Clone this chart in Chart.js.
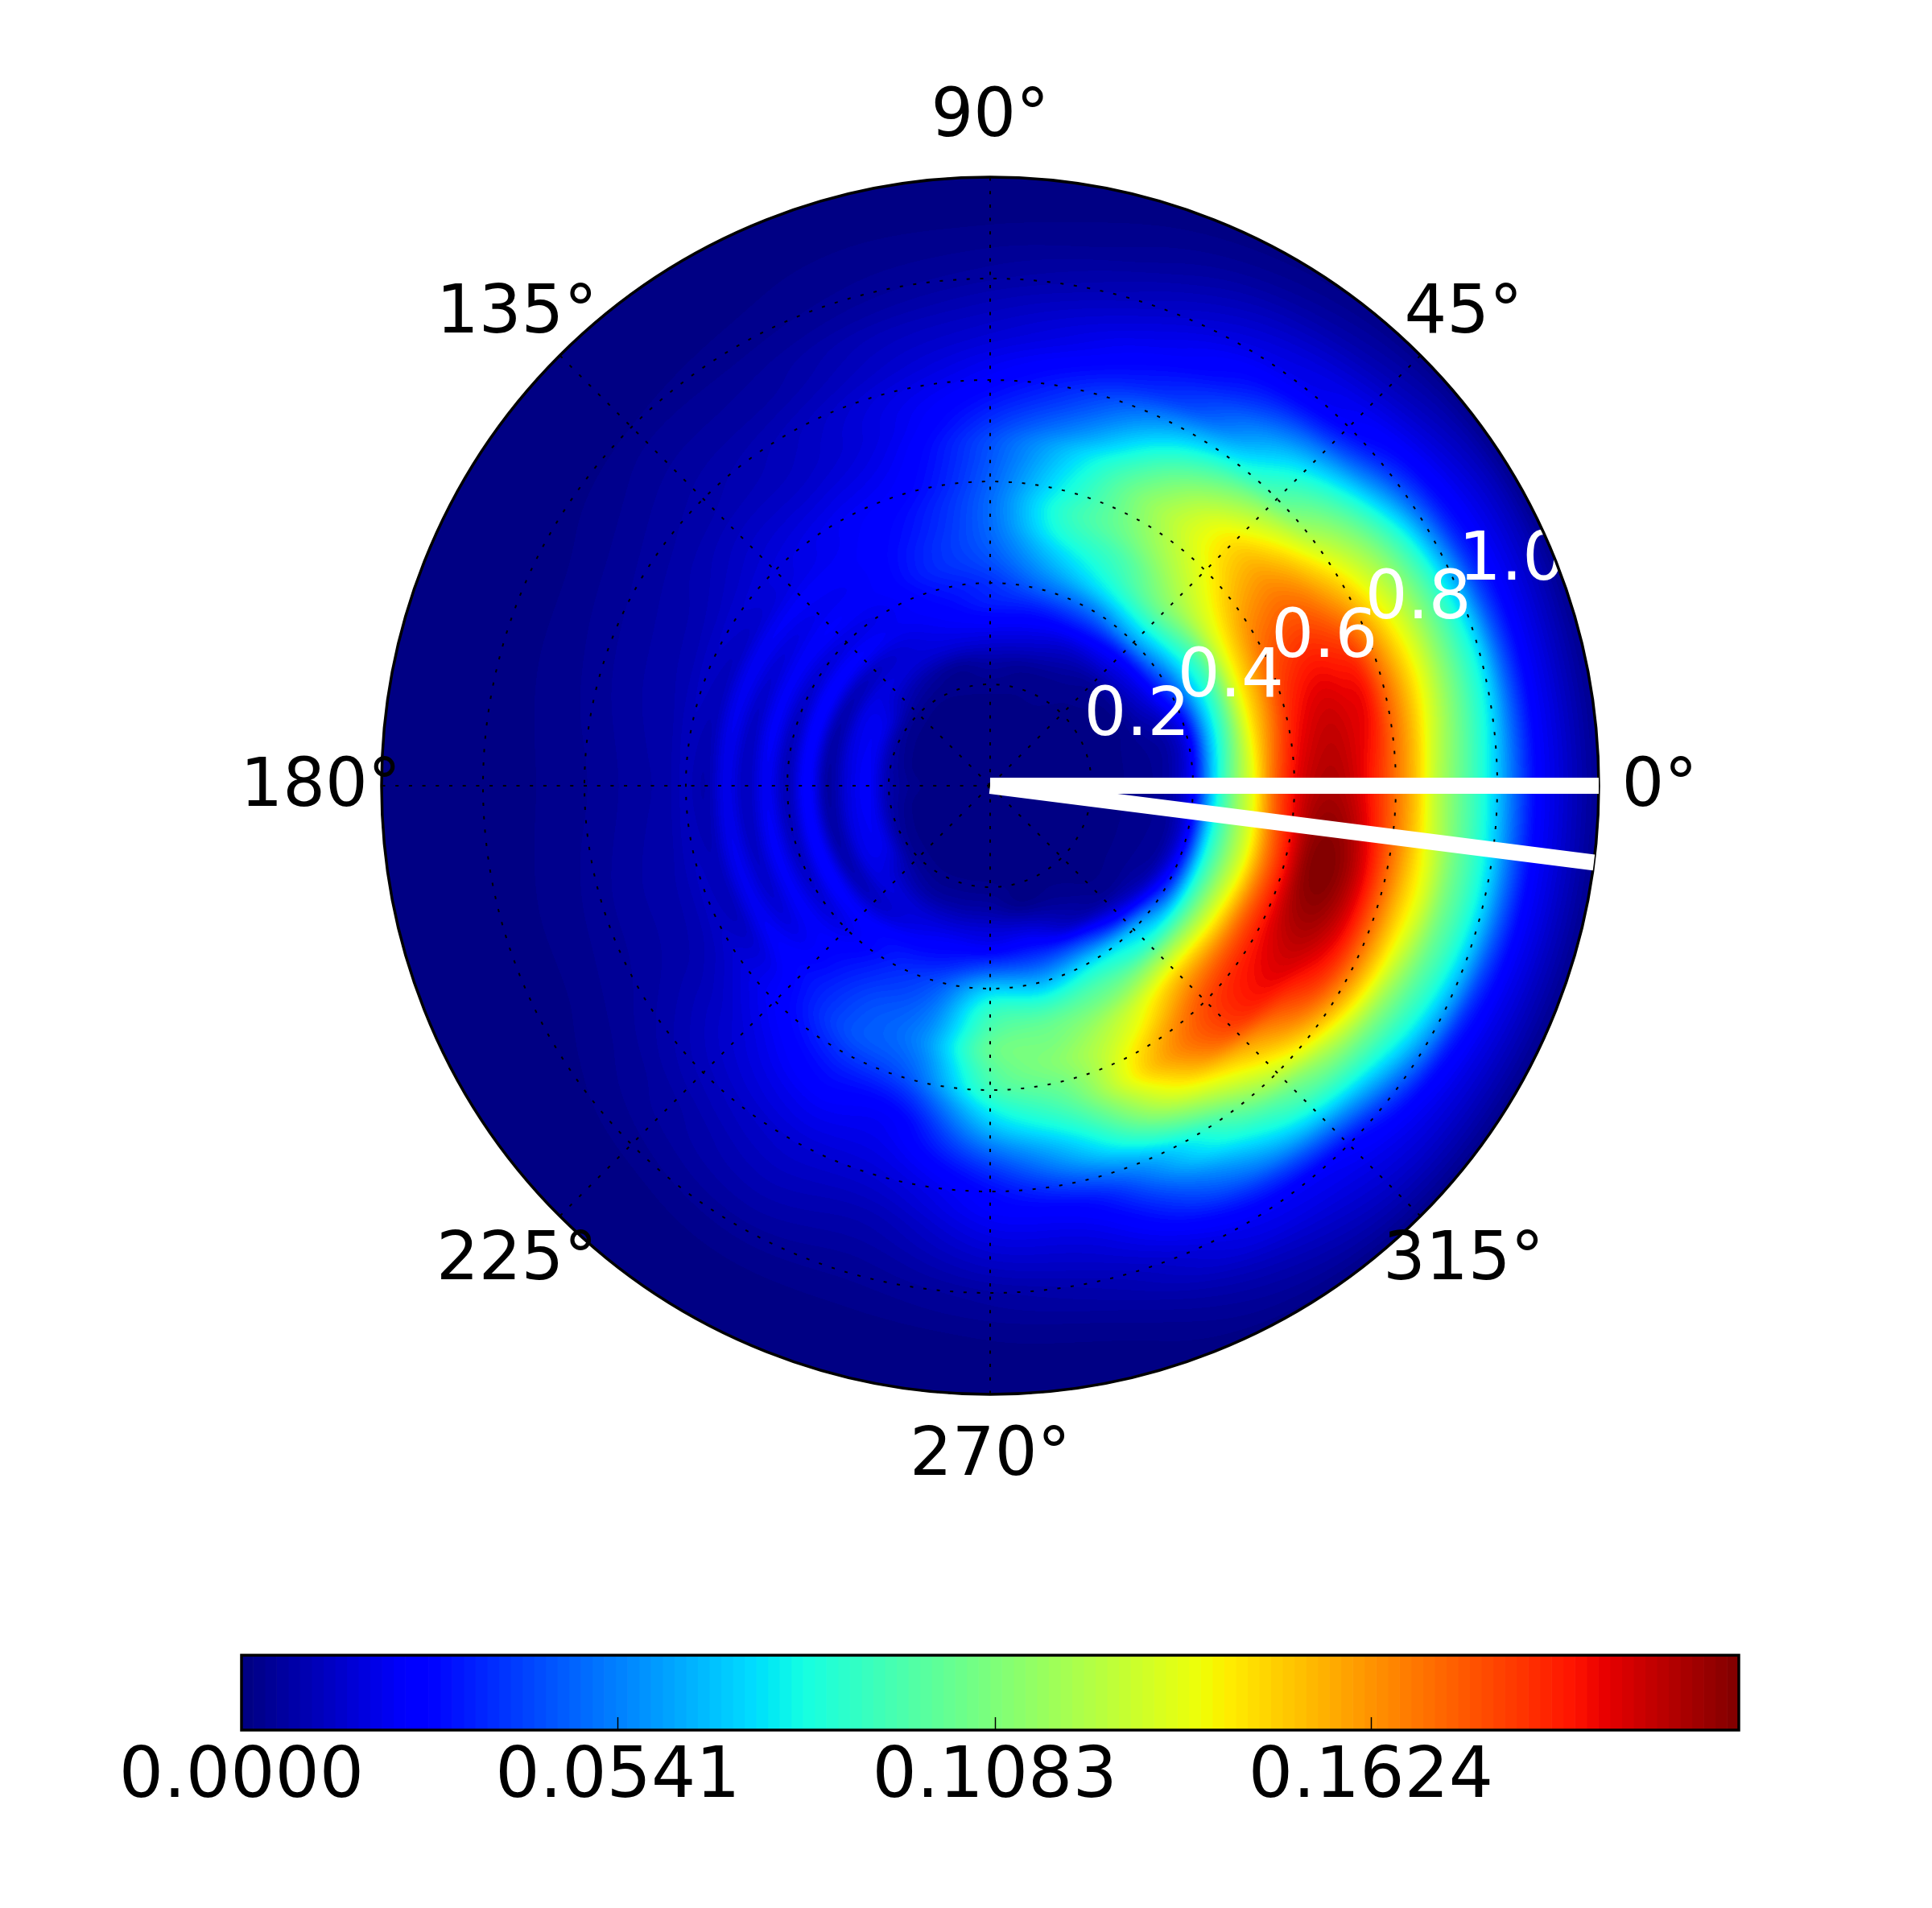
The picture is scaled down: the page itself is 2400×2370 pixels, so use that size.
<!DOCTYPE html>
<html>
<head>
<meta charset="utf-8">
<title>Polar heat map</title>
<script src="https://cdn.jsdelivr.net/npm/chart.js@4"></script>
<style>
  html, body { margin: 0; padding: 0; background: #fff; }
  canvas { position: absolute; left: 0; }
  #polar { top: 0; }
  #colorbar { top: 2040px; }
</style>
</head>
<body>
<canvas id="polar" width="2400" height="2370"></canvas>
<canvas id="colorbar" width="2400" height="330"></canvas>
<script>
// clockwise from the top, that is how the radar scale walks its spokes
const spokeLabels = ['90°', '45°', '0°', '315°', '270°', '225°', '180°', '135°']
const radialTicks = [0.2, 0.4, 0.6, 0.8, 1.0]
const whiteLineAngles = [0, -7.25]

const colorMax = 0.2153
const colorTicks = [0, 0.0541, 0.1083, 0.1624]

const radii = [0, 0.04, 0.08, 0.12, 0.16, 0.2, 0.24, 0.28, 0.32, 0.36, 0.4, 0.44, 0.48, 0.52, 0.56, 0.6,
    0.64, 0.68, 0.72, 0.76, 0.8, 0.84, 0.88, 0.92, 0.96, 1, 1.04, 1.08, 1.12, 1.16, 1.2]
const angles = [0, 15, 30, 45, 60, 75, 90, 105, 120, 135, 150, 165, 180, 195, 210, 225, 240, 255, 270, 285, 300, 315, 330, 345]

const heatRows = [
    [0,0,0,0,0,.5,.5,1,1.5, 4,12,33,50,64,80,90,95,96,93,87,79,70,58,49,41,32,21,12,8,4.5,1.5],
    [0,0,0,0,0,.5,.5,1,2, 4,11,30,46,63,75,85,90,92,91,89,80,71,62,52,43,34,21,12,8,4.5,1.5],
    [0,0,0,0,0,.5,.5,1,5, 10,20,33,44,60,70,77,80,81,79,74,68,61,54,46,37,26,16,11,8,5,1.5],
    [0,0,0,0,0,.5,1,2,7, 13,27,38,48,55,60,64,67,67,62,55,46,41,35,27,18,12,10,7.5,5,3,1],
    [0,0,0,0,.5,1,1.5,4,8, 15,24,34,40,44,49,52,53,50,45,38,30,22,18,14,11.5,9,7,5,3,1.5,.5],
    [0,0,0,0,.5,1,2,6,10, 15,22,28,33,38,40,38,36,33,27,22,18,14,11,9,7,5,3.5,2,1.2,.6,.2],
    [0,0,0,0,.5,1.2,3,7,11, 15,17,20,22,23,23,22,21,20,17,14,11.5,9.5,7.5,6,4.5,3,2,1.2,.6,.2,0],
    [0,0,0,0,.5,1,2,7,10, 12,14,16,16,15,14,12.5,11.5,10.5,9.5,9,8,6.5,5.5,4.5,3,2,1.4,1,.5,.2,0],
    [0,0,0,0,.5,1,3,7,8, 10,10,11,11,11,10.5,10,8.5,7,6,5.5,5,4,3,2.5,1.8,1.2,.8,.5,.2,0,0],
    [0,0,0,0,.5,1.5,5,8,6, 11,8.5,11,9.5,10.5,8.5,8,7,6,5,4,3.5,3,2.5,2,1.5,.8,.5,.2,0,0,0],
    [0,0,0,0,.5,2.5,9,9,4.5, 11.5,7,10.5,7.5,10,6,6.5,5,4,3.5,3,2.5,2,1.5,1,.7,.4,.2,0,0,0,0],
    [0,0,0,0,.8,3.5,10,8.5,3.5, 11.5,5.5,10.5,6,9.5,5,5.5,4,3.5,3,2.5,2,1.5,1.2,.8,.5,.3,.1,0,0,0,0],
    [0,0,0,.5,1.5,4,10.5,8,3, 11.5,5,10,5.5,9,4,5,3.5,3,2.5,2,1.5,1.2,.9,.6,.4,.2,.1,0,0,0,0],
    [0,0,0,0,.8,3.5,10,8.5,3.5, 11.5,5.5,10.5,6,9.5,5,5.5,4,3.5,3,2.5,2,1.5,1.2,.8,.5,.3,.1,0,0,0,0],
    [0,0,0,0,.5,2.5,9,9,4.5, 11.5,7,10.5,7.5,10,6,6.5,5,4,3.5,3,2.5,2,1.5,1,.7,.4,.2,0,0,0,0],
    [0,0,0,0,.5,1.5,5,8,6, 11,9.5,11.5,12,13,12,11,9.5,8,7,6,5,4,3,2.5,1.8,1.2,.6,.3,0,0,0],
    [0,0,0,0,.5,1,3,7,9, 13,15,17,19,20,20,17,14,12,10,8.5,7,6,5,4,3,2,1.2,.6,.3,0,0],
    [0,0,0,0,.5,1,3,7,11, 15,20,23,25,26,24,21,16,12,10.5,9,7.5,6,4.5,3.5,2.5,1.8,1.2,.6,.3,0,0],
    [0,0,0,0,.5,1,3,7,11, 20,32,40,44,47,45,42,36,30,23,17,13,11,9,7,5,3,2,1,.5,.1,0],
    [0,0,0,0,.2,.5,1,6,12, 20,30,40,47,50,52,50,47,42,36,30,22,15,11.5,9,7,5,3.5,2,1,.4,0],
    [0,0,0,0,0,.5,1,3,7, 20,34,43,50,58,63,68,70,65,58,48,38,33,26,20,14,10,8,5.5,3.5,2,.6],
    [0,0,0,0,0,.5,.5,1,3, 12,30,40,55,68,77,83,85,83,74,67,59,49,42,33,22,13,10,8,6,3.5,1],
    [0,0,0,0,0,.5,.5,1,2, 5,17,37,53,67,80,88,92,93,90,85,76,65,53,44,36,26,15,10,7,4,1.2],
    [0,0,0,0,0,.5,.5,1,1.5, 3,12,35,50,63,78,89,98,100,97,90,80,70,61,50,42,33,21,12,8,4.5,1.5],
]

const fontFamily = '"DejaVu Sans"'
const levels = 128

// matplotlib jet
function ramp(points, t) {
    for (let i = 1; i < points.length; i++) {
        if (t <= points[i][0]) {
            const a = points[i - 1], b = points[i]
            return a[1] + (b[1] - a[1]) * (t - a[0]) / (b[0] - a[0])
        }
    }
    return points[points.length - 1][1]
}
const jetR = [[0, 0], [0.35, 0], [0.66, 1], [0.89, 1], [1, 0.5]]
const jetG = [[0, 0], [0.125, 0], [0.375, 1], [0.64, 1], [0.91, 0], [1, 0]]
const jetB = [[0, 0.5], [0.11, 1], [0.34, 1], [0.65, 0], [1, 0]]
const palette = []
for (let i = 0; i < levels; i++) {
    const t = (i + 0.5) / levels
    palette.push([ramp(jetR, t), ramp(jetG, t), ramp(jetB, t)].map(c => Math.round(c * 255)))
}

function cubic(a, b, c, d, t) {
    return b + 0.5 * t * (c - a + t * (2 * a - 5 * b + 4 * c - d + t * (3 * (b - c) + d - a)))
}

// smooth shading between the cells, like gouraud in pcolormesh
function sampleHeat(rows, radius, theta) {
    const nA = rows.length, nR = radii.length
    const stepA = 360 / nA, stepR = radii[1] - radii[0]
    const fa = ((theta % 360) + 360) % 360 / stepA
    const ia = Math.floor(fa), ta = fa - ia
    const fr = Math.min(radius / stepR, nR - 1.001)
    const ir = Math.floor(fr), tr = fr - ir
    const at = j => {
        const row = rows[((ia + j) % nA + nA) % nA]
        return cubic(row[Math.max(ir - 1, 0)], row[ir], row[ir + 1], row[Math.min(ir + 2, nR - 1)], tr)
    }
    return cubic(at(-1), at(0), at(1), at(2), ta)
}

let heatLayer = null

function buildHeatLayer(chart) {
    const scale = chart.scales.r
    const rows = chart.data.datasets.map(d => d.data)
    const rad = scale.drawingArea
    const size = rad * 2 + 2
    const off = document.createElement('canvas')
    off.width = off.height = size
    const octx = off.getContext('2d')
    const img = octx.createImageData(size, size)
    for (let y = 0; y < size; y++) {
        for (let x = 0; x < size; x++) {
            const dx = x + 0.5 - size / 2, dy = size / 2 - y - 0.5
            const value = scale.getValueForDistanceFromCenter(Math.hypot(dx, dy))
            const v = sampleHeat(rows, value, Math.atan2(dy, dx) * 180 / Math.PI) / 100
            const c = palette[Math.max(0, Math.min(levels - 1, Math.floor(v * levels)))]
            const k = (y * size + x) * 4
            img.data[k] = c[0]; img.data[k + 1] = c[1]; img.data[k + 2] = c[2]; img.data[k + 3] = 255
        }
    }
    octx.putImageData(img, 0, 0)
    return off
}

const polarHeat = {
    id: 'polarHeat',
    beforeDraw(chart) {
        const scale = chart.scales.r, ctx = chart.ctx
        if (!heatLayer) heatLayer = buildHeatLayer(chart)
        ctx.save()
        ctx.beginPath()
        ctx.arc(scale.xCenter, scale.yCenter, scale.drawingArea, 0, Math.PI * 2)
        ctx.clip()
        ctx.drawImage(heatLayer, scale.xCenter - heatLayer.width / 2, scale.yCenter - heatLayer.height / 2)
        ctx.restore()
    },
    afterDraw(chart) {
        const scale = chart.scales.r, ctx = chart.ctx
        const cx = scale.xCenter, cy = scale.yCenter
        const rad = scale.drawingArea
        const px = (r, deg) => {
            const d = scale.getDistanceFromCenterForValue(r), a = deg * Math.PI / 180
            return [cx + d * Math.cos(a), cy - d * Math.sin(a)]
        }
        ctx.save()
        ctx.font = '83px ' + fontFamily

        // radial tick labels, the outer one runs off onto the white page
        ctx.fillStyle = '#fff'
        ctx.textAlign = 'left'
        ctx.textBaseline = 'alphabetic'
        radialTicks.forEach(r => {
            const p = px(r, 22.5)
            ctx.fillText(r.toFixed(1), p[0], p[1] - 15)
        })

        ctx.beginPath()
        ctx.arc(cx, cy, rad, 0, Math.PI * 2)
        ctx.strokeStyle = '#000'
        ctx.lineWidth = 3.5
        ctx.stroke()

        ctx.strokeStyle = '#fff'
        ctx.lineWidth = 20
        ctx.lineCap = 'butt'
        whiteLineAngles.forEach(deg => {
            const p = px(scale.max, deg)
            ctx.beginPath()
            ctx.moveTo(cx, cy)
            ctx.lineTo(p[0], p[1])
            ctx.stroke()
        })

        // angle labels sit on a circle 1.1 times the rim
        ctx.fillStyle = '#000'
        ctx.textAlign = 'center'
        ctx.textBaseline = 'middle'
        spokeLabels.forEach((label, i) => {
            const p = scale.getPointPosition(i, rad * 1.1)
            ctx.fillText(label, p.x, p.y + 3)
        })
        ctx.restore()
    }
}

new Chart(document.getElementById('polar'), {
    type: 'radar',
    data: {
        labels: spokeLabels,
        datasets: heatRows.map((row, i) => ({
            label: angles[i] + '°',
            data: row,
            fill: false,
            showLine: false,
            pointRadius: 0,
            pointHitRadius: 0
        }))
    },
    options: {
        responsive: false,
        animation: false,
        events: [],
        layout: { padding: { left: 474, right: 414, top: 220, bottom: 638 } },
        plugins: { legend: { display: false }, tooltip: { enabled: false } },
        scales: {
            r: {
                min: 0,
                max: 1.2,
                ticks: { display: false, stepSize: 0.2 },
                pointLabels: { display: false },
                grid: { circular: true, color: '#000', lineWidth: 2 },
                border: { dash: [4, 12.7] },
                angleLines: { display: true, color: '#000', lineWidth: 2, borderDash: [4, 12.7] }
            }
        }
    },
    plugins: [polarHeat]
})

const colorbarFrame = {
    id: 'colorbarFrame',
    afterDraw(chart) {
        const ctx = chart.ctx, a = chart.chartArea, x = chart.scales.x
        ctx.save()
        ctx.strokeStyle = '#000'
        ctx.lineWidth = 1.5
        colorTicks.slice(1).forEach(v => {
            const p = Math.round(x.getPixelForValue(v)) + 0.5
            ctx.beginPath()
            ctx.moveTo(p, a.bottom)
            ctx.lineTo(p, a.bottom - 16)
            ctx.stroke()
        })
        ctx.lineWidth = 3.5
        ctx.strokeRect(a.left, a.top, a.right - a.left, a.bottom - a.top)
        ctx.restore()
    }
}

new Chart(document.getElementById('colorbar'), {
    type: 'bar',
    data: {
        labels: ['colorbar'],
        datasets: palette.map(c => ({
            data: [colorMax / levels],
            backgroundColor: 'rgb(' + c.join(',') + ')',
            borderWidth: 0
        }))
    },
    options: {
        indexAxis: 'y',
        responsive: false,
        animation: false,
        events: [],
        barPercentage: 1,
        categoryPercentage: 1,
        layout: { padding: { left: 300, right: 240, top: 16, bottom: 0 } },
        plugins: { legend: { display: false }, tooltip: { enabled: false } },
        scales: {
            x: {
                type: 'linear',
                stacked: true,
                min: 0,
                max: colorMax,
                grid: { display: false },
                border: { display: false },
                afterBuildTicks: s => { s.ticks = colorTicks.map(v => ({ value: v })) },
                afterFit: s => { s.height = 221 },
                ticks: {
                    autoSkip: false,
                    maxRotation: 0,
                    padding: 0,
                    color: '#000',
                    font: { family: fontFamily, size: 87 },
                    callback: v => v.toFixed(4)
                }
            },
            y: { display: false, stacked: true }
        }
    },
    plugins: [colorbarFrame]
})
</script>
</body>
</html>
